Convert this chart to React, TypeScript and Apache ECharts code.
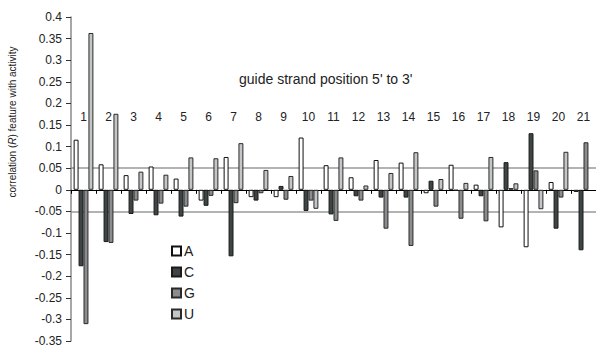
import React, { useEffect, useRef } from "react";
import * as echarts from "echarts";

// Guide strand positions 1..21 (5' to 3')
const positions = ["1","2","3","4","5","6","7","8","9","10","11","12","13","14","15","16","17","18","19","20","21"];

// Correlation (R) of each nucleotide feature with activity, per position
const valuesA = [0.116, 0.059, 0.034, 0.054, 0.026, -0.025, 0.076, -0.017, -0.017, 0.121, 0.057, 0.029, 0.069, 0.063, -0.008, 0.058, 0.012, -0.087, -0.133, 0.018, -0.005];
const valuesC = [-0.177, -0.121, -0.056, -0.059, -0.062, -0.037, -0.154, -0.025, 0.009, -0.049, -0.057, -0.015, -0.018, -0.018, 0.021, -0.002, -0.015, 0.064, 0.131, -0.09, -0.14];
const valuesG = [-0.311, -0.123, -0.025, -0.032, -0.039, -0.014, -0.031, -0.008, -0.023, -0.025, -0.072, -0.025, -0.09, -0.13, -0.039, -0.067, -0.073, 0.004, 0.045, -0.018, 0.11];
const valuesU = [0.363, 0.176, 0.042, 0.035, 0.075, 0.073, 0.108, 0.046, 0.032, -0.044, 0.075, 0.01, 0.039, 0.087, 0.025, 0.016, 0.076, 0.015, -0.045, 0.088, null];

const seriesNames = ["A", "C", "G", "U"];
const seriesValues = [valuesA, valuesC, valuesG, valuesU];
const fills = ["#ffffff", "#3d4545", "#8a8c8e", "#c3c5c7"];
const borders = ["#111111", "#1a1a1a", "#2a2a2a", "#2a2a2a"];

const FONT = "'Liberation Sans', Arial, sans-serif";

// y ticks run -0.35..0.4 in steps of 0.05; only ±0.05 get a visible guide line
const yMin = -0.35;
const yMax = 0.4;
const yStep = 0.05;
const tickCount = Math.round((yMax - yMin) / yStep) + 1;
const splitColors = Array.from({ length: tickCount }, (_, i) => {
  const v = Math.round((yMin + i * yStep) * 100) / 100;
  return Math.abs(Math.abs(v) - 0.05) < 1e-9 ? "#9a9a9a" : "rgba(0,0,0,0)";
});

export default function App() {
  const ref = useRef<HTMLDivElement>(null);

  useEffect(() => {
    if (!ref.current) return;
    const chart = echarts.init(ref.current, undefined, { renderer: "svg" });
    chart.setOption({
      animation: false,
      backgroundColor: "#ffffff",
      textStyle: { fontFamily: FONT },
      title: {
        text: "guide strand position 5' to 3'",
        left: 234,
        top: 67,
        textStyle: { fontFamily: FONT, fontSize: 14, fontWeight: "normal", color: "#222" },
      },
      legend: {
        orient: "vertical",
        left: 166,
        top: 239,
        itemWidth: 9,
        itemHeight: 9,
        itemGap: 7,
        icon: "rect",
        data: seriesNames,
        textStyle: { fontFamily: FONT, fontSize: 14, color: "#222", lineHeight: 14, padding: [0, 0, 0, -2] },
      },
      grid: { left: 71, top: 17, width: 531, height: 324, containLabel: false },
      xAxis: {
        type: "category",
        data: positions,
        axisLine: { onZero: true, lineStyle: { color: "#000", width: 1 } },
        axisTick: { show: true, length: 4, lineStyle: { color: "#000" } },
        // position numbers sit inside the plot, just above the +0.15 level
        axisLabel: { margin: -230, fontSize: 12, color: "#222", fontFamily: FONT },
        splitLine: { show: false },
      },
      yAxis: {
        type: "value",
        min: yMin,
        max: yMax,
        interval: yStep,
        axisLine: { show: true, lineStyle: { color: "#8a8a8a", width: 1.5 } },
        axisTick: { show: true, length: 5, lineStyle: { color: "#333" } },
        axisLabel: {
          margin: 9,
          fontSize: 12,
          color: "#222",
          fontFamily: FONT,
          formatter: (v: number) => String(Math.round(v * 100) / 100),
        },
        splitLine: { show: true, lineStyle: { color: splitColors, width: 1.5 } },
      },
      graphic: [
        {
          type: "text",
          x: 12,
          y: 122,
          rotation: Math.PI / 2,
          style: {
            text: "correlation ({i|R}) feature with activity",
            fontFamily: FONT,
            fontSize: 10,
            fill: "#222",
            align: "center",
            verticalAlign: "middle",
            rich: { i: { fontStyle: "italic", fontFamily: FONT, fontSize: 10, fill: "#222" } },
          },
        },
      ],
      series: seriesNames.map((name, i) => ({
        name,
        type: "bar",
        data: seriesValues[i],
        barGap: "0%",
        barCategoryGap: "21%",
        itemStyle: { color: fills[i], borderColor: borders[i], borderWidth: 1 },
      })),
    });
    return () => chart.dispose();
  }, []);

  return (
    <div
      ref={ref}
      style={{ position: "fixed", left: 0, top: 0, width: 596, height: 349, background: "#fff" }}
    />
  );
}
